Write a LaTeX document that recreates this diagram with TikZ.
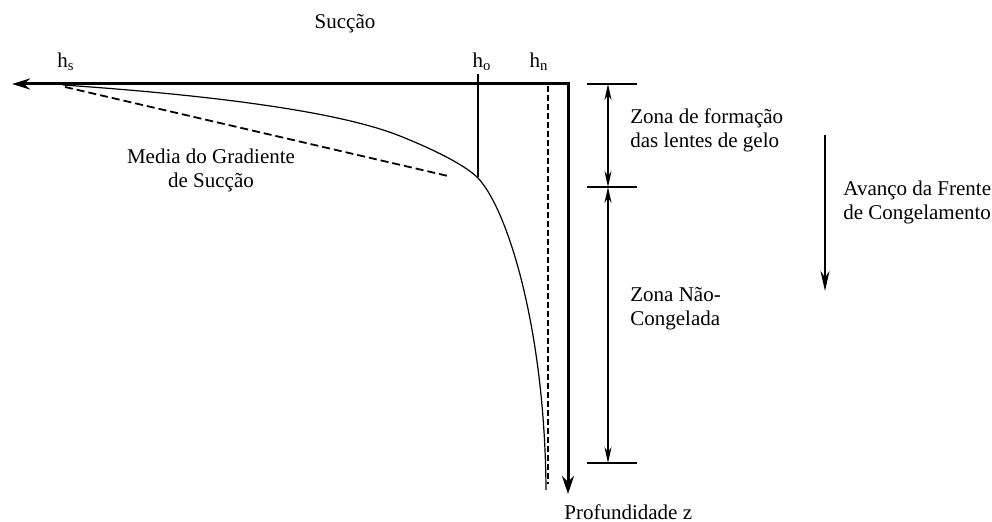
\documentclass[tikz,border=0pt]{standalone}
\usepackage{fontspec}
\setmainfont{Liberation Serif}
\usetikzlibrary{arrows.meta}

\tikzset{
  eixo/.style={line width=1.5pt},
  cota/.style={line width=1pt,{Stealth[length=8pt,width=3.5pt]}-{Stealth[length=8pt,width=3.5pt]}},
  marca/.style={line width=0.6pt},
  texto/.style={inner sep=0pt,align=left},
}

\begin{document}
\begin{tikzpicture}[x=0.5pt,y=-0.5pt,font=\fontsize{10.5}{12}\selectfont]
\useasboundingbox (0,0) rectangle (992,522);
% eixos
\coordinate (hsx) at (12,84);
\coordinate (orig) at (568,84);
\coordinate (zfim) at (568,494);
\draw[eixo,{Stealth[length=9pt,width=5.5pt]}-{Stealth[length=9pt,width=6pt]}] (hsx) -- (orig) -- (zfim);
% perfil de succao
\draw[line width=0.6pt] (63,85) .. controls (180,93) and (330,108) .. (400,136)
  .. controls (430,148) and (464,164) .. (478,178)
  .. controls (508,210) and (545,330) .. (546,490);
\draw[line width=0.9pt,dash pattern=on 4pt off 2pt] (65,87) -- (448,176);
\draw[line width=0.9pt,dash pattern=on 3pt off 1.5pt] (548,86) -- (548,484);
\draw[marca] (478,74) -- (478,177);
% zonas
\coordinate (t1) at (608,84);
\coordinate (t2) at (608,187);
\coordinate (t3) at (608,463);
\foreach \t in {t1,t2,t3}
  \draw[marca] ([xshift=-10.5pt]\t) -- ([xshift=14.5pt]\t);
\draw[cota] (t1) -- (t2);
\draw[cota] (t2) -- (t3);
\coordinate (av1) at (825,135);
\coordinate (av2) at (825,291);
\draw[line width=1pt,-{Stealth[length=10pt,width=4.5pt]}] (av1) -- (av2);
% textos
\node[texto] (succao) at (345,24) {Sucção};
\node[texto] (hs) at (66,62) {h\textsubscript{s}};
\node[texto] (ho) at (482,62) {h\textsubscript{o}};
\node[texto] (hn) at (539,62) {h\textsubscript{n}};
\node[texto,align=center] (media) at (211,170) {Media do Gradiente\\de Sucção};
\node[texto,anchor=west] (zona1) at (630,130) {Zona de formação\\das lentes de gelo};
\node[texto,anchor=west] (zona2) at (630,309) {Zona Não-\\Congelada};
\node[texto,anchor=west] (avanco) at (843,202) {Avanço da Frente\\de Congelamento};
\node[texto,anchor=west] (prof) at (564,512) {Profundidade z};
\end{tikzpicture}
\end{document}
